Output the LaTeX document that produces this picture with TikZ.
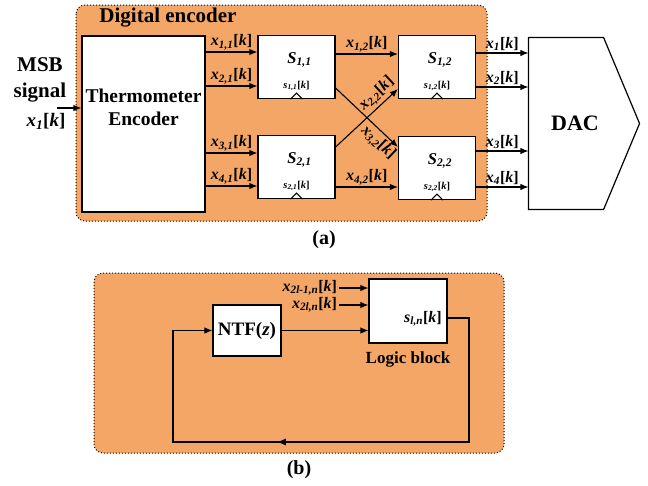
\documentclass[tikz,border=0pt]{standalone}
\usepackage{fontspec}
\setmainfont{Liberation Serif}
\usetikzlibrary{positioning,calc,arrows.meta,decorations.markings}
\definecolor{encorange}{RGB}{244,166,102}
\newcommand{\sig}[2]{\textbf{\textit{#1}\textsubscript{\textit{#2}}[\textit{k}]}}

\begin{document}
\begin{tikzpicture}[
    x=1pt, y=-1pt,
    >={Latex[length=8pt,width=6.5pt]},
    line width=1.1pt,
    panel/.style={fill=encorange, draw=black, dotted, line width=1pt, rounded corners=9pt},
    blk/.style={draw=black, fill=white, line width=1.2pt, inner sep=0pt},
    swbox/.style={blk, minimum width=77pt, minimum height=63pt},
    lbl/.style={font=\fontsize{16}{16}\selectfont, inner sep=1.5pt},
    slbl/.style={font=\fontsize{10.5}{10.5}\selectfont, inner sep=0pt},
    ttl/.style={font=\fontsize{19.5}{23}\selectfont\bfseries, align=center, inner sep=0pt},
    midarrow/.style={postaction={decorate, decoration={markings, mark=at position #1 with {\arrow{Latex[length=9pt,width=7pt]}}}}},
]
\useasboundingbox (0,0) rectangle (648,485);
\draw[panel] (76,5) rectangle (487,221);
\node[ttl, font=\fontsize{21}{21}\selectfont\bfseries] (dtitle) at (168,18) {Digital encoder};
\node[blk, minimum width=123pt, minimum height=176pt] (enc) at (143.5,124) {};
\node[ttl] (enctxt) at (143.5,107) {Thermometer\\Encoder};
\node[ttl, font=\fontsize{21}{26}\selectfont\bfseries] (msb) at (40,80) {MSB\\signal};
\node[lbl, font=\fontsize{19}{19}\selectfont] (msbx) at (46,121) {\sig{x}{1}};
\coordinate (msbin) at (57,108);
\draw[->] (msbin) -- (enc.west |- msbin);
\foreach \nm/\xx/\yy/\i/\j in {s11/296.5/67/1/1, s21/296.5/167/2/1, s12/437/67/1/2, s22/437/168/2/2} {
  \node[swbox] (\nm) at (\xx,\yy) {};
  \node[font=\fontsize{16.5}{16.5}\selectfont\bfseries\itshape, inner sep=0pt] (\nm-t) at ($(\nm)+(3,-7)$) {S\textsubscript{\i,\j}};
  \node[slbl] (\nm-s) at ($(\nm)+(0,19)$) {\sig{s}{\i,\j}};
  \draw[line width=1pt] ($(\nm.south)+(-6,0)$) -- ($(\nm.south)+(0,-6)$) -- ($(\nm.south)+(6,0)$);
}
\foreach \yy/\nm/\i in {52/s11/1, 86/s11/2, 153/s21/3, 186/s21/4} {
  \draw[->] (enc.east |- 0,\yy) -- node[lbl, above] {\sig{x}{\i,1}} (\nm.west |- 0,\yy);
}
\draw[->] (s11.east |- 0,54) -- node[lbl, above] {\sig{x}{1,2}} (s12.west |- 0,54);
\draw[->] (s11.east |- 0,88) -- node[lbl, sloped, below=1pt, pos=0.8] {\sig{x}{3,2}} (s22.west |- 0,147);
\draw[->] (s21.east |- 0,147) -- node[lbl, sloped, above=1pt, pos=0.78] {\sig{x}{2,2}} (s12.west |- 0,89);
\draw[->] (s21.east |- 0,187) -- node[lbl, above] {\sig{x}{4,2}} (s22.west |- 0,187);
\node[minimum width=74pt, minimum height=171pt, inner sep=0pt] (dac) at (566,123.5) {};
\draw[line width=1.2pt] (dac.north west) -- (dac.north east) -- ($(dac.east)+(36,0)$) -- (dac.south east) -- (dac.south west) -- cycle;
\node[ttl, font=\fontsize{22}{22}\selectfont\bfseries] (dactxt) at (575,123) {DAC};
\foreach \yy/\nm/\i in {53/s12/1, 87/s12/2, 151/s22/3, 187/s22/4} {
  \draw[->] (\nm.east |- 0,\yy) -- node[lbl, above] {\sig{x}{\i}} (dac.west |- 0,\yy);
}
\node[ttl, font=\fontsize{20}{20}\selectfont\bfseries] (capa) at (324,240) {(a)};
\draw[panel] (94,273) rectangle (504,453);
\node[blk, minimum width=68pt, minimum height=51pt, font=\fontsize{19}{19}\selectfont\bfseries] (ntf) at (247,330.5) {NTF(\textit{z})};
\node[blk, minimum width=78pt, minimum height=64pt] (logic) at (408,311) {};
\node[lbl] (slog) at (423,319) {\sig{s}{l,n}};
\node[ttl, font=\fontsize{17}{17}\selectfont\bfseries] (logtxt) at (408,359) {Logic block};
\node[lbl, anchor=east] (xin1) at (339,288) {\sig{x}{2l-1,n}};
\node[lbl, anchor=east] (xin2) at (339,305) {\sig{x}{2l,n}};
\draw[->] (xin1.east) -- (logic.west |- xin1.east);
\draw[->] (xin2.east) -- (logic.west |- xin2.east);
\draw[->] (ntf.east) -- (logic.west |- ntf.east);
\draw[->, midarrow=0.57] (logic.east |- 0,318) -- (469,318) -- (469,442) -- (173,442) -- (173,330.5) -- (ntf.west);
\node[ttl, font=\fontsize{20}{20}\selectfont\bfseries] (capb) at (299,470) {(b)};
\end{tikzpicture}
\end{document}
